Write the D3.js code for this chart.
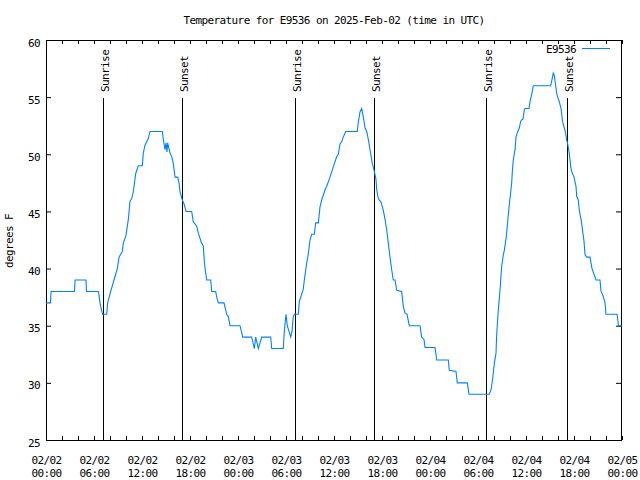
<!DOCTYPE html>
<html>
<head>
<meta charset="utf-8">
<script src="https://cdn.jsdelivr.net/npm/d3@7"></script>
<style>
  html, body { margin: 0; padding: 0; background: #fff; }
  svg { display: block; }
  text { font-family: "DejaVu Sans Mono", "Liberation Mono", monospace; font-size: 11px; fill: #000; letter-spacing: -0.6px; }
</style>
</head>
<body>
<svg id="chart" width="640" height="480"></svg>
<script>
// ---- data (hours since 2025-02-02 00:00 UTC, temperature in °F) ----
const hours = [
  0, 0.56, 0.63, 3.56, 3.63, 5.0, 5.06, 6.56, 6.75, 6.96, 7.09, 7.59, 7.71, 8.09, 8.5, 8.91,
  9.13, 9.54, 9.66, 10.0, 10.29, 10.5, 10.71, 10.91, 11.21, 11.54, 12.04, 12.16, 12.38, 12.59,
  12.79, 13.0, 14.54, 14.66, 14.88, 15.0, 15.12, 15.21, 15.5, 15.71, 15.91, 16.13, 16.46, 16.63,
  16.75, 17.04, 17.29, 17.5, 18.21, 18.41, 18.84, 19.04, 19.46, 19.66, 19.79, 19.96, 20.09,
  20.59, 20.71, 21.21, 21.34, 21.54, 22.25, 22.38, 22.59, 22.79, 23.0, 24.25, 24.46, 24.59,
  25.71, 25.91, 26.04, 26.21, 26.38, 26.54, 26.96, 28.09, 28.21, 29.66, 29.79, 30.0, 30.16,
  30.59, 30.75, 30.91, 31.04, 31.54, 31.66, 32.16, 32.29, 32.59, 32.79, 33.0, 33.21, 33.54,
  33.71, 34.04, 34.25, 34.46, 34.88, 35.09, 35.5, 35.91, 36.34, 36.54, 36.75, 36.96, 37.16,
  37.46, 38.91, 39.04, 39.25, 39.46, 39.66, 39.88, 40.09, 40.29, 40.5, 40.79, 41.04, 41.25,
  41.34, 41.54, 41.88, 42.16, 42.38, 42.59, 42.79, 43.0, 43.21, 43.41, 43.63, 43.84, 44.46,
  44.66, 44.88, 45.13, 45.41, 46.75, 46.96, 47.25, 47.38, 48.63, 48.84, 50.29, 50.41, 51.25,
  51.41, 52.66, 52.88, 55.41, 55.63, 55.84, 56.04, 56.25, 56.34, 56.54, 56.75, 56.96, 57.16,
  57.29, 57.5, 57.66, 57.88, 58.09, 58.21, 58.29, 58.41, 58.63, 58.75, 58.96, 59.16, 59.34,
  59.46, 59.63, 59.79, 59.88, 60.38, 60.5, 60.63, 60.79, 60.91, 63.09, 63.21, 63.41, 63.54,
  63.71, 63.84, 63.96, 64.16, 64.38, 64.54, 64.66, 64.88, 65.09, 65.16, 65.41, 65.59, 65.71,
  66.0, 66.25, 66.34, 66.54, 66.66, 66.88, 67.04, 67.25, 67.38, 67.59, 68.0, 68.25, 68.5,
  68.75, 69.25, 69.38, 69.63, 69.88, 70.0, 71.38, 71.56, 72.0
];
const tempF = [
  37, 37, 38, 38, 39, 39, 38, 38, 37, 36.3, 36, 36, 37, 38, 39, 40,
  41, 41.5, 42.2, 42.9, 44.3, 45.9, 46.1, 46.7, 48.3, 49, 49, 50.1, 50.8, 51.1,
  51.4, 52, 52, 51.3, 50.4, 51, 50.2, 51, 50.1, 49.8, 49.2, 48, 48, 47.5,
  46.7, 46, 45.6, 45, 45, 44.1, 43.7, 43.1, 42.2, 42, 40.6, 39.6, 39,
  39, 38, 38, 37.5, 37, 37, 36.6, 36, 35.8, 35, 35, 34.4, 34,
  34, 33.4, 33, 34, 33.5, 33, 34, 34, 33, 33, 34.5, 36, 35,
  34, 34.5, 35.8, 36, 36, 37.1, 38.2, 39, 40.5, 41.3, 42.5, 43, 43,
  44, 44, 45.4, 46, 46.9, 47.2, 48, 48.9, 49.8, 50, 50.9, 51.1, 51.5,
  52, 52, 52.8, 53.7, 54, 53.3, 52.3, 52, 51.3, 50.4, 49.2, 48.5, 47.8,
  46.9, 46.1, 45.8, 45.1, 44.3, 43.4, 42.2, 41, 39.9, 39, 39, 38.1, 38,
  36.7, 36.1, 36, 35, 35, 34, 33.8, 33.1, 33.1, 32, 32, 31.1, 31,
  30, 30, 29, 29, 29.4, 30.4, 31.7, 32.6, 34.3, 36.4, 38.1, 40.2, 41.2,
  41.6, 42.6, 43.7, 45.4, 46.7, 47.5, 48.5, 49.5, 50.4, 51.5, 52, 52.3, 52.9,
  53, 53.1, 53.9, 54, 54, 54.6, 55, 55.5, 56, 56, 56.4, 57.1, 56.9,
  56, 55.3, 55, 54.6, 54, 53, 52.6, 52.1, 51.2, 51.1, 50.1, 48.9, 48.5,
  48, 47.2, 46.3, 46, 45.1, 44.3, 43.5, 42.4, 41.2, 41, 41, 40, 39.5,
  39, 39, 38, 37.6, 37, 36, 36, 35, 35
];
const sunriseHours = [7.13, 31.13, 55.04];
const sunsetHours = [17.04, 41.04, 65.08];
const yTicks = [25, 30, 35, 40, 45, 50, 55, 60];
const xTickHours = [0, 6, 12, 18, 24, 30, 36, 42, 48, 54, 60, 66, 72];
const xMinorHours = d3.range(0, 73, 2);
const titleText = "Temperature for E9536 on 2025-Feb-02 (time in UTC)";
const yLabel = "degrees F";
const seriesName = "E9536";

// ---- setup ----
const t0 = Date.UTC(2025, 1, 2, 0, 0);
const toDate = h => new Date(t0 + h * 3600e3);
const M = { left: 46, right: 622, top: 40, bottom: 440 };
const svg = d3.select("#chart");

const x = d3.scaleUtc().domain([toDate(0), toDate(72)]).range([M.left, M.right]);
const y = d3.scaleLinear().domain([25, 60]).range([M.bottom, M.top]);

const lineColor = "#0080ff";
const fmtDay = d3.utcFormat("%m/%d");
const fmtTime = d3.utcFormat("%H:%M");

// ---- axes (ticks inward, mirrored) ----
const xBottom = d3.axisBottom(x).tickValues(xMinorHours.map(toDate)).tickSize(-4).tickFormat("");
const xTop = d3.axisTop(x).tickValues(xMinorHours.map(toDate)).tickSize(-4).tickFormat("");
const yLeft = d3.axisLeft(y).tickValues(yTicks).tickSize(-5).tickPadding(6).tickFormat(d3.format("d"));
const yRight = d3.axisRight(y).tickValues(yTicks).tickSize(-5).tickFormat("");

function styleAxis(g) {
  g.select(".domain").remove();
  g.selectAll("line").attr("stroke", "#000");
}
svg.append("g").attr("transform", `translate(0,${M.bottom})`).call(xBottom).call(styleAxis);
svg.append("g").attr("transform", `translate(0,${M.top})`).call(xTop).call(styleAxis);
const gl = svg.append("g").attr("transform", `translate(${M.left},0)`).call(yLeft).call(styleAxis);
gl.selectAll("text").attr("dy", null).attr("y", 6)
  .style("font-family", "'DejaVu Sans Mono', monospace").style("font-size", "11px").attr("fill", "#000");
svg.append("g").attr("transform", `translate(${M.right - 1},0)`).call(yRight).call(styleAxis);

// x tick labels (two lines)
const xl = svg.append("g");
xTickHours.forEach(h => {
  const d = toDate(h);
  const t = xl.append("text").attr("text-anchor", "middle");
  t.append("tspan").attr("x", x(d) + 0.5).attr("y", 463.5).text(fmtDay(d));
  t.append("tspan").attr("x", x(d) + 0.5).attr("y", 476.5).text(fmtTime(d));
});

// ---- border ----
svg.append("rect")
  .attr("x", M.left + 0.5).attr("y", M.top + 0.5)
  .attr("width", M.right - M.left - 1).attr("height", M.bottom - M.top)
  .attr("fill", "none").attr("stroke", "#000").attr("stroke-width", 1);

// ---- sunrise / sunset markers ----
const markers = sunriseHours.map(h => ({ h, label: "Sunrise" }))
  .concat(sunsetHours.map(h => ({ h, label: "Sunset" })));
markers.forEach(m => {
  const px = Math.round(x(toDate(m.h))) + 0.5;
  svg.append("line").attr("x1", px).attr("x2", px).attr("y1", 98).attr("y2", M.bottom)
    .attr("stroke", "#000").attr("stroke-width", 1);
  svg.append("text").attr("transform", `translate(${px + 5},92) rotate(-90)`)
    .attr("text-anchor", "start").text(m.label);
});

// ---- data line ----
const data = hours.map((h, i) => ({ d: toDate(h), v: tempF[i] }));
const line = d3.line().x(p => x(p.d)).y(p => y(p.v));
svg.append("path").datum(data).attr("d", line)
  .attr("fill", "none").attr("stroke", lineColor).attr("stroke-width", 1.1)
  .attr("stroke-linejoin", "miter");

// ---- title, y label, legend ----
svg.append("text").attr("x", 334).attr("y", 24).attr("text-anchor", "middle").text(titleText);
svg.append("text").attr("transform", "translate(13,241) rotate(-90)")
  .attr("text-anchor", "middle").text(yLabel);
svg.append("text").attr("x", 576).attr("y", 53).attr("text-anchor", "end").text(seriesName);
svg.append("line").attr("x1", 582).attr("x2", 610).attr("y1", 48.5).attr("y2", 48.5)
  .attr("stroke", lineColor).attr("stroke-width", 1);
</script>
</body>
</html>
